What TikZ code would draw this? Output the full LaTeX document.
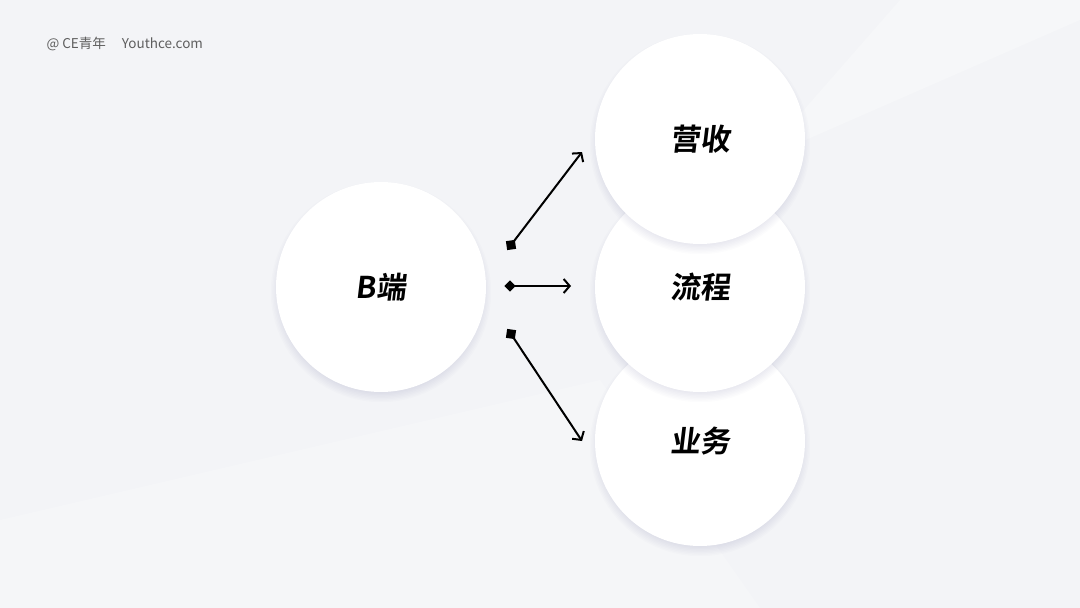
\documentclass[tikz,border=0pt]{standalone}
\usepackage{fontspec}
\setmainfont{Noto Sans CJK SC}
\newfontfamily\cjkbold[FakeSlant=0.12]{Noto Sans CJK SC Bold}
\newfontfamily\cjkreg{Noto Sans CJK SC}
\usetikzlibrary{arrows.meta}
\definecolor{bgc}{HTML}{F3F4F7}
\definecolor{bgl}{HTML}{F6F7F9}
\definecolor{txtgray}{HTML}{5E5E5E}
\tikzset{
  x=1pt,y=-1pt,
  bubble/.style={circle, fill=white, minimum size=210pt, inner sep=0pt,
    font=\cjkbold\fontsize{30}{32}\selectfont, text=black},
  conn/.style={line width=2pt, black, -{Straight Barb[length=6pt,width=14pt,line width=2pt]}},
  sqmark/.style={rectangle, fill=black, minimum size=9pt, inner sep=0pt},
  dmmark/.style={rectangle, fill=black, minimum size=8pt, inner sep=0pt, rotate=45},
}
\newcommand{\softshadow}[2]{%
  \foreach \i in {0,...,13}{\fill[black!60!blue,opacity=0.012] (#1,#2+5) circle[radius=92+\i*1.4];}}
\begin{document}
\begin{tikzpicture}
\useasboundingbox (0,0) rectangle (1080,608);
\fill[bgc] (0,0) rectangle (1080,608);
\fill[bgl] (760,160) -- (1080,20) -- (1080,0) -- (900,0) -- cycle;
\fill[white,opacity=0.2] (0,608) -- (0,520) -- (600,380) -- (760,608) -- cycle;
\node[anchor=west, text=txtgray, font=\cjkreg\fontsize{13.5}{15}\selectfont] (brand) at (43,44) {@ CE青年\hspace{16pt}Youthce.com};
\softshadow{381}{287}
\node[bubble] (b) at (381,287) {B端};
\softshadow{700}{441}
\node[bubble] (r3) at (700,441) {业务};
\softshadow{700}{287}
\node[bubble] (r2) at (700,287) {流程};
\softshadow{700}{139}
\node[bubble] (r1) at (700,139) {营收};
\node[sqmark, rotate=8] (s1) at (511,245) {};
\node[dmmark] (s2) at (510,286) {};
\node[sqmark, rotate=-8] (s3) at (511,334) {};
\coordinate (e1) at (582,152);
\coordinate (e2) at (571,286);
\coordinate (e3) at (582,441);
\draw[conn] (s1.center) -- (e1);
\draw[conn] (s2.center) -- (e2);
\draw[conn] (s3.center) -- (e3);
\end{tikzpicture}
\end{document}
